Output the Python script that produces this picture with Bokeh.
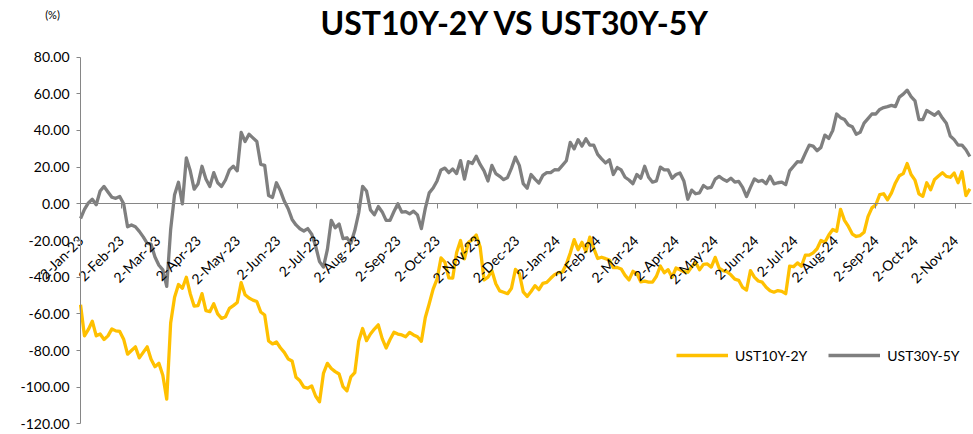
import math
import pandas as pd
from bokeh.plotting import figure
from bokeh.models import (ColumnDataSource, Range1d, FixedTicker, NumeralTickFormatter,
                          DatetimeTickFormatter, Legend, LegendItem, Label)
from bokeh.core.properties import value
from bokeh.embed import file_html
from bokeh.resources import INLINE

# ---------------- data ----------------
start_date = "2023-01-02"
end_date = "2024-11-14"
# observation dates (every third calendar day)
dates = pd.date_range(start_date, periods=228, freq="3D")

ust10y_2y = [
    -55, -72, -68.5, -64, -72, -71, -74, -72, -68.2, -69.3,
    -69.6, -73.8, -82, -80, -78, -84, -81, -78, -84.8, -88.8,
    -87, -93.5, -106.5, -65, -51, -44, -46, -40, -49, -55.8,
    -55.5, -49, -58.2, -58.8, -54.5, -60, -62.5, -61.6, -57, -55.5,
    -53.8, -43, -49.6, -51.4, -52.5, -53.3, -59, -60.6, -74.8, -76.4,
    -75.3, -78.5, -81, -84.6, -85.7, -94.6, -96.5, -100, -100.5, -99.3,
    -104.8, -108, -92.5, -87, -89.8, -91.5, -92.8, -99.7, -102, -94.4,
    -92.1, -75, -68, -74.6, -71, -68.3, -66, -73.5, -78.6, -74,
    -70, -71, -71.5, -72.5, -70.1, -71.5, -72.5, -75, -62, -54.5,
    -46.5, -41.1, -29.5, -31.8, -40.4, -40.5, -26.5, -20, -30, -21,
    -19.5, -17, -23.5, -41.5, -40, -36.5, -43.6, -47.5, -48.2, -49,
    -46, -35.8, -37.9, -48, -50.5, -47.8, -44.6, -46.8, -43.4, -42.8,
    -40.6, -38.6, -37.5, -37.2, -33, -26.8, -19.5, -25, -21, -26,
    -18.2, -24.3, -29.8, -29.1, -29.9, -30.6, -34.8, -34.7, -35.5, -39,
    -41.5, -36.8, -38, -42.5, -42.2, -42.7, -42.7, -39.5, -33.9, -37.6,
    -35.9, -40, -35, -36, -37, -37.3, -34.3, -31.9, -36, -33,
    -32.8, -34.5, -29.2, -35, -36.4, -37, -38.7, -41.1, -41.7, -45.6,
    -47, -36.4, -40, -42.1, -42.7, -45.5, -47.4, -48.2, -47.3, -47.7,
    -49, -34, -34.3, -32.2, -34, -28, -28, -26.7, -24.5, -20,
    -21, -17, -14, -15, -3, -9, -12.3, -16.5, -17.8, -17.3,
    -15.5, -7, -2.2, -0.5, 5, 5.5, 2.2, 6, 11.4, 15.3,
    16.5, 22, 16, 12.9, 5.5, 4.1, 11.5, 7.7, 13.3, 15.2,
    17, 15, 14.5, 16.8, 11.5, 17.5, 4.5, 8.2,
]

ust30y_5y = [
    -8, -3, 0.5, 2.5, -0.5, 7, 9.5, 6.5, 3.6, 3,
    4, 0, -12.5, -11.5, -12.5, -15, -18, -21.5, -22, -29,
    -33.5, -36, -45, -14, 5, 11.8, 0, 25, 18, 8,
    11, 20.5, 13.5, 9.5, 17, 11.5, 9.5, 13, 18.5, 20.5,
    18, 39, 34, 38, 36, 34, 21.5, 21, 4.5, 3.5,
    11.5, 7.2, 1.5, -2.7, -8.5, -11.5, -13.6, -14.8, -13.5, -16.5,
    -23, -31.5, -34.5, -25, -9, -13, -11, -19, -18.5, -21.5,
    -14.6, -5, 9.5, 7, -3.3, -6, -1.5, -4.4, -9, -9,
    -4.2, 0, -4.5, -4.2, -5.5, -4, -6, -13.5, -2.5, 6,
    8.6, 12.5, 18.5, 19.5, 17, 19, 16.5, 23.6, 13.5, 23,
    22, 26, 21.5, 18, 12.5, 21, 16.5, 15, 13.2, 14.4,
    19.5, 25.5, 21, 11, 8.5, 16, 13.5, 11.3, 15.5, 17,
    17, 18.6, 18.5, 21, 23.5, 33.5, 30, 35, 31.5, 35.5,
    32, 32, 27, 24.5, 22.3, 24, 16, 19.8, 18.5, 14.5,
    13, 11, 16, 14, 20.5, 14.5, 11.8, 12.5, 20, 18.5,
    18.5, 14, 16, 16.8, 12.5, 2.5, 7.5, 5.5, 6, 10,
    8.5, 9, 13.5, 15, 13.4, 12.3, 14, 11.9, 12.3, 9,
    4, 9, 13.6, 12.2, 12.8, 11, 15, 10.9, 11.5, 11.8,
    10.5, 18, 20.5, 23, 22.8, 27.5, 32, 31.5, 29, 30.8,
    37.5, 35.7, 40, 49, 47, 46, 43, 42, 38, 39,
    44, 46.5, 49, 49, 51.5, 52.5, 53, 53.7, 53, 58.2,
    59.8, 62, 58.5, 56.2, 46, 45.9, 50.9, 49.6, 48.3, 50.2,
    46.8, 44, 37, 35, 32, 32, 29.5, 25.8,
]

tick_dates = [
    "2023-01-02", "2023-02-02", "2023-03-02", "2023-04-02", "2023-05-02", "2023-06-02",
    "2023-07-02", "2023-08-02", "2023-09-02", "2023-10-02", "2023-11-02", "2023-12-02",
    "2024-01-02", "2024-02-02", "2024-03-02", "2024-04-02", "2024-05-02", "2024-06-02",
    "2024-07-02", "2024-08-02", "2024-09-02", "2024-10-02", "2024-11-02",
]
tick_labels = [
    "2-Jan-23", "2-Feb-23", "2-Mar-23", "2-Apr-23", "2-May-23", "2-Jun-23",
    "2-Jul-23", "2-Aug-23", "2-Sep-23", "2-Oct-23", "2-Nov-23", "2-Dec-23",
    "2-Jan-24", "2-Feb-24", "2-Mar-24", "2-Apr-24", "2-May-24", "2-Jun-24",
    "2-Jul-24", "2-Aug-24", "2-Sep-24", "2-Oct-24", "2-Nov-24",
]
y_ticks = [-120, -100, -80, -60, -40, -20, 0, 20, 40, 60, 80]
series_names = ["UST10Y-2Y", "UST30Y-5Y"]
title_text = "UST10Y-2Y VS UST30Y-5Y"
unit_text = "(%)"
axis_cross = 0

# ---------------- styling / layout ----------------
W, H = 973, 434
FONT = "Lato"
YELLOW = "#FFC000"
GREY = "#7F7F7F"
AXIS = "#868686"
LINE_W = 3.3

t0 = pd.Timestamp(start_date)
t1 = pd.Timestamp(end_date)
# the frame covers the whole canvas; the axes are pinned inside it
x_start = t0 - pd.Timedelta(days=61.3)
x_end = t0 + pd.Timedelta(days=683.8)
y_lo, y_hi = -125.8, 110.9

p = figure(
    width=W, height=H,
    x_axis_type="datetime",
    x_range=Range1d(x_start, x_end),
    y_range=Range1d(y_lo, y_hi),
    output_backend="svg", toolbar_location=None, title_location=None,
    min_border=0,
)
p.grid.visible = False
p.outline_line_color = None
p.background_fill_color = "white"
p.border_fill_color = "white"

tick_ms = [pd.Timestamp(d).timestamp() * 1000 for d in tick_dates]

xa = p.xaxis[0]
xa.fixed_location = axis_cross
xa.bounds = (t0, t1)
xa.ticker = FixedTicker(ticks=tick_ms)
xa.formatter = DatetimeTickFormatter(days="%-d-%b-%y", months="%-d-%b-%y", years="%-d-%b-%y")
xa.major_label_overrides = {ms: lab for ms, lab in zip(tick_ms, tick_labels)}
xa.major_label_orientation = math.pi / 4
xa.major_label_standoff = 29
xa.major_label_text_font = FONT
xa.major_label_text_font_size = "14px"
xa.major_label_text_color = "#000000"
xa.major_tick_in = 0
xa.major_tick_out = 5
xa.minor_tick_line_color = None
xa.axis_line_color = AXIS
xa.major_tick_line_color = AXIS

ya = p.yaxis[0]
ya.fixed_location = t0.timestamp() * 1000
ya.bounds = (min(y_ticks), max(y_ticks))
ya.ticker = FixedTicker(ticks=y_ticks)
ya.formatter = NumeralTickFormatter(format="0.00")
ya.major_tick_in = 0
ya.major_tick_out = 4
ya.minor_tick_line_color = None
ya.axis_line_color = AXIS
ya.major_tick_line_color = AXIS
ya.major_label_standoff = 7
ya.major_label_text_font = FONT
ya.major_label_text_font_size = "14px"
ya.major_label_text_color = "#000000"

src = ColumnDataSource(dict(date=dates, a=ust10y_2y, b=ust30y_5y))
r1 = p.line("date", "a", source=src, line_color=YELLOW, line_width=LINE_W, line_join="round")
r2 = p.line("date", "b", source=src, line_color=GREY, line_width=LINE_W, line_join="round")

legend = Legend(
    items=[LegendItem(label=value(series_names[0]), renderers=[r1]),
           LegendItem(label=value(series_names[1]), renderers=[r2])],
    orientation="horizontal", location=(676, 69),
    glyph_width=52, glyph_height=20, label_height=20, label_standoff=7, spacing=21,
    padding=0, margin=0, border_line_color=None, background_fill_alpha=0,
    label_text_font=FONT, label_text_font_size="14px", label_text_color="#000000",
)
p.add_layout(legend)

p.add_layout(Label(x=515, y=H - 22, x_units="screen", y_units="screen", text=title_text,
                   text_align="center", text_baseline="middle", text_font=FONT,
                   text_font_style="bold", text_font_size="32px", text_color="#000000"))
p.add_layout(Label(x=52, y=H - 14, x_units="screen", y_units="screen", text=unit_text,
                   text_align="center", text_baseline="middle", text_font=FONT,
                   text_font_size="11px", text_color="#000000"))

open("out.html", "w").write(file_html(p, INLINE))
